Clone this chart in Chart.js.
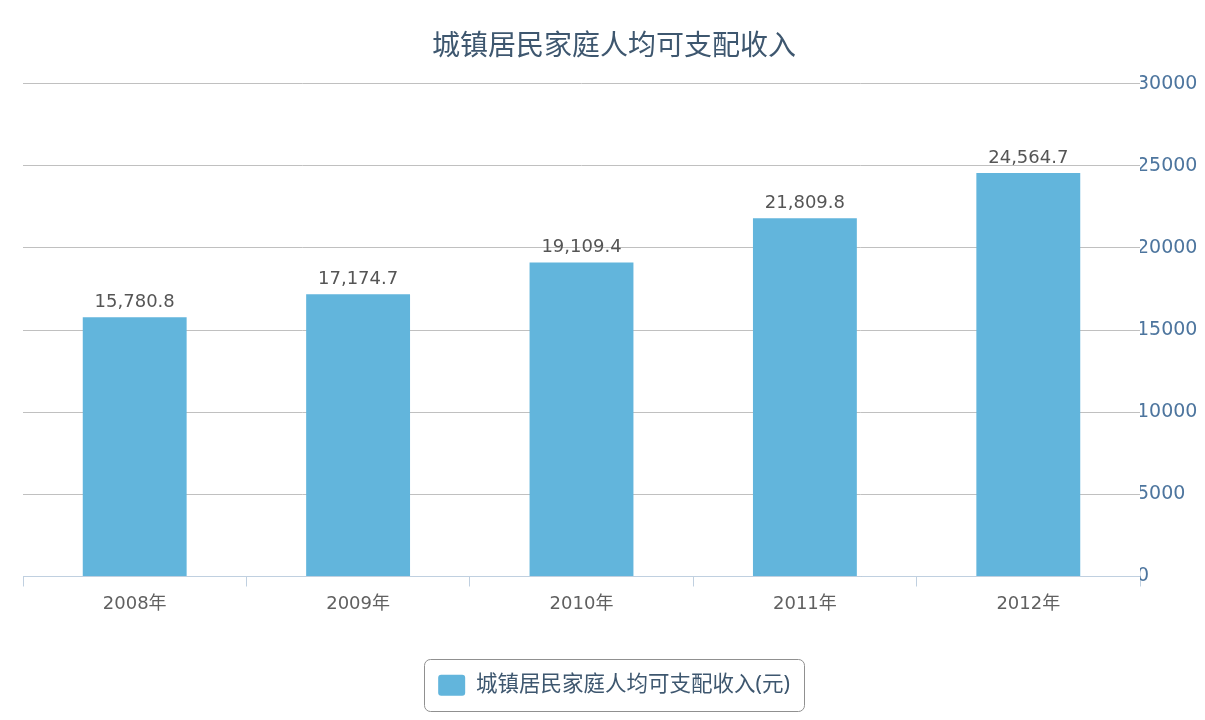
<!DOCTYPE html>
<html>
<head>
<meta charset="utf-8">
<title>城镇居民家庭人均可支配收入</title>
<script src="https://cdn.jsdelivr.net/npm/chart.js@4/dist/chart.umd.min.js"></script>
<style>
  html, body { margin: 0; padding: 0; background: #fff; }
  #wrap { width: 1205px; height: 720px; }
</style>
</head>
<body>
<div id="wrap"><canvas id="incomeChart" width="1205" height="720"></canvas></div>
<script>
// Per-capita disposable income of urban households, by year (yuan)
const years = ['2008年', '2009年', '2010年', '2011年', '2012年'];
const income = [15780.8, 17174.7, 19109.4, 21809.8, 24564.7];
const yTicks = [0, 5000, 10000, 15000, 20000, 25000, 30000];

const seriesName = '城镇居民家庭人均可支配收入(元)';
const chartTitle = '城镇居民家庭人均可支配收入';

const cjkFont = "'Noto Sans', 'Noto Sans CJK SC', sans-serif";
const numFont = "'DejaVu Sans', 'Noto Sans CJK SC', sans-serif";

Chart.defaults.font.family = cjkFont;

// Value labels above each bar
const barValueLabels = {
    id: 'barValueLabels',
    afterDatasetsDraw(chart) {
        const ctx = chart.ctx;
        const meta = chart.getDatasetMeta(0);
        ctx.save();
        ctx.font = '18px ' + numFont;
        ctx.fillStyle = '#555555';
        ctx.textAlign = 'center';
        ctx.textBaseline = 'bottom';
        meta.data.forEach((bar, i) => {
            const v = chart.data.datasets[0].data[i];
            const txt = v.toLocaleString('en-US', { minimumFractionDigits: 1, maximumFractionDigits: 1 });
            ctx.fillText(txt, bar.x, bar.y - 6);
        });
        ctx.restore();
    }
};

// Rounded frame around the legend
const legendFrame = {
    id: 'legendFrame',
    afterDraw(chart) {
        const boxes = chart.legend && chart.legend.legendHitBoxes;
        if (!boxes || !boxes.length) return;
        const hb = boxes[0];
        const ctx = chart.ctx;
        const x = hb.left - 14, w = hb.width + 28;
        const cy = hb.top + hb.height / 2;
        const y = cy - 26, h = 52;
        ctx.save();
        ctx.strokeStyle = '#909090';
        ctx.lineWidth = 1;
        ctx.beginPath();
        ctx.roundRect(Math.round(x) + 0.5, Math.round(y) + 0.5, Math.round(w), h, 6);
        ctx.stroke();
        ctx.restore();
    }
};

new Chart(document.getElementById('incomeChart'), {
    type: 'bar',
    data: {
        labels: years,
        datasets: [{
            label: seriesName,
            data: income,
            backgroundColor: '#62b5dc',
            borderWidth: 0,
            borderRadius: 0,
            categoryPercentage: 1,
            barPercentage: 0.465
        }]
    },
    options: {
        responsive: false,
        animation: false,
        layout: { padding: { left: 23, right: 0, top: 0, bottom: 14 } },
        plugins: {
            title: {
                display: true,
                text: chartTitle,
                color: '#3e576f',
                font: { size: 28, weight: 'normal' },
                padding: { top: 30, bottom: 20 }
            },
            legend: {
                position: 'bottom',
                labels: {
                    color: '#3e576f',
                    font: { size: 21.5 },
                    boxWidth: 27,
                    boxHeight: 21,
                    padding: 10,
                    useBorderRadius: true,
                    borderRadius: 3
                }
            },
            tooltip: { enabled: false }
        },
        scales: {
            x: {
                offset: true,
                grid: {
                    offset: true,
                    drawOnChartArea: false,
                    drawTicks: true,
                    tickLength: 10,
                    color: '#c0d0e0'
                },
                border: { color: '#c0d0e0', width: 1 },
                ticks: { color: '#606060', font: { size: 18, family: numFont }, padding: 7 },
                afterFit(scale) { scale.height = 88; }
            },
            y: {
                position: 'right',
                min: 0,
                max: 30000,
                afterBuildTicks(scale) { scale.ticks = yTicks.map(v => ({ value: v })); },
                grid: { color: '#c0c0c0', drawTicks: false },
                border: { display: false },
                ticks: {
                    color: '#4d759e',
                    font: { size: 19, family: numFont },
                    padding: -3,
                    callback: v => String(v)
                },
                afterFit(scale) { scale.width = 65; }
            }
        }
    },
    plugins: [barValueLabels, legendFrame]
});
</script>
</body>
</html>
